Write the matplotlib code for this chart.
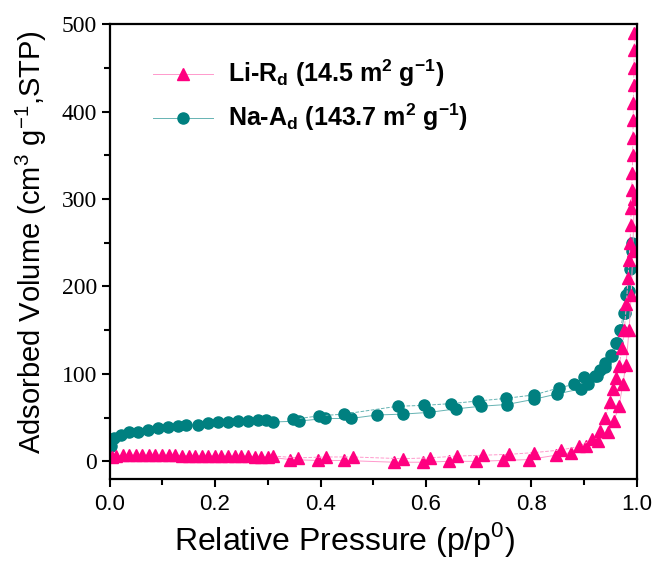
import numpy as np
import matplotlib.pyplot as plt
from matplotlib.ticker import MultipleLocator

plt.rcParams['font.family'] = 'Liberation Sans'
plt.rcParams['mathtext.fontset'] = 'custom'
plt.rcParams['mathtext.rm'] = 'Liberation Sans'
plt.rcParams['mathtext.bf'] = 'Liberation Sans:bold'
plt.rcParams['axes.unicode_minus'] = False

# --- data ---
li_ads_p = [0.004, 0.012, 0.025, 0.037, 0.05, 0.062, 0.075, 0.087, 0.10, 0.112, 0.125, 0.137,
            0.15, 0.162, 0.175, 0.187, 0.20, 0.212, 0.225, 0.237, 0.25, 0.262, 0.275, 0.287,
            0.30, 0.343, 0.395, 0.444, 0.539, 0.594, 0.643, 0.695, 0.746, 0.795, 0.846, 0.875,
            0.903, 0.926, 0.945, 0.956, 0.966, 0.973, 0.979, 0.985, 0.989, 0.992, 0.995]
li_ads_v = [5, 6, 7, 7, 7, 7, 7, 7, 7, 7, 7, 6.5, 6.5, 6.5, 6.5, 6.5, 6, 6, 6, 6, 6, 6,
            5.5, 5.5, 5, 2, 1, 1, -1, -1, 0, 0, 1, 2, 7, 10, 17, 23, 33, 46, 63, 88, 110,
            150, 190, 240, 300]
li_des_p = [0.995, 0.995, 0.994, 0.994, 0.993, 0.993, 0.992, 0.992, 0.991, 0.990, 0.989,
            0.988, 0.987, 0.985, 0.983, 0.980, 0.976, 0.972, 0.966, 0.960, 0.954, 0.948,
            0.940, 0.930, 0.915, 0.890, 0.856, 0.805, 0.757, 0.708, 0.658, 0.607, 0.556,
            0.461, 0.410, 0.358, 0.31]
li_des_v = [490, 470, 450, 430, 410, 390, 370, 350, 330, 310, 290, 270, 250, 230, 210, 180,
            150, 130, 109, 95, 83, 68, 50, 35, 25, 17, 13, 10, 8, 7, 6, 4, 3, 5, 5, 4, 6]

na_ads_p = [0.002, 0.008, 0.021, 0.036, 0.053, 0.072, 0.091, 0.11, 0.129, 0.144, 0.167, 0.186,
            0.205, 0.224, 0.243, 0.262, 0.281, 0.296, 0.309, 0.359, 0.408, 0.457, 0.507, 0.556,
            0.606, 0.657, 0.704, 0.753, 0.805, 0.848, 0.894, 0.907, 0.925, 0.94, 0.952, 0.962,
            0.97, 0.978, 0.984, 0.99]
na_ads_v = [18, 27, 30, 33, 34, 36, 38, 39, 40, 41, 42, 44, 45, 45, 46, 46, 47, 47, 45, 46,
            49, 49, 53, 54, 56, 60, 63, 65, 71, 77, 83, 88, 98, 108, 120, 135, 150, 170, 195, 240]
na_des_p = [0.99, 0.986, 0.98, 0.975, 0.968, 0.96, 0.95, 0.94, 0.93, 0.92, 0.90, 0.88, 0.852,
            0.805, 0.751, 0.698, 0.647, 0.596, 0.546, 0.444, 0.397, 0.347]
na_des_v = [250, 220, 190, 170, 150, 135, 122, 112, 104, 98, 96, 88, 84, 76, 72, 69, 66, 64,
            63, 54, 52, 48]

PINK = '#ff0080'
TEAL = '#008080'

fig = plt.figure(figsize=(6.56, 5.62), dpi=100)
ax = fig.add_axes([0.167, 0.148, 0.804, 0.809])

# Na first, Li drawn on top
ax.plot(na_ads_p, na_ads_v, '-', color='#66b3b3', lw=0.7, marker='o', ms=8,
        mfc=TEAL, mec=TEAL,
        label=r'Na-A$_\mathbf{d}$ (143.7 m$^\mathbf{2}$ g$^\mathbf{-1}$)')
ax.plot(na_des_p, na_des_v, '--', color='#66b3b3', lw=0.7, marker='o', ms=8,
        mfc=TEAL, mec=TEAL)
ax.plot(li_ads_p, li_ads_v, '-', color='#ff99cc', lw=0.7, marker='^', ms=9,
        mfc=PINK, mec=PINK,
        label=r'Li-R$_\mathbf{d}$ (14.5 m$^\mathbf{2}$ g$^\mathbf{-1}$)')
ax.plot(li_des_p, li_des_v, '--', color='#ff99cc', lw=0.7, marker='^', ms=9,
        mfc=PINK, mec=PINK)

ax.set_xlim(0, 1.0)
ax.set_ylim(-20, 500)
ax.xaxis.set_major_locator(MultipleLocator(0.2))
ax.xaxis.set_minor_locator(MultipleLocator(0.1))
ax.yaxis.set_major_locator(MultipleLocator(100))
ax.yaxis.set_minor_locator(MultipleLocator(50))
ax.xaxis.set_major_formatter(plt.FormatStrFormatter('%.1f'))

for s in ax.spines.values():
    s.set_linewidth(1.6)
ax.tick_params(which='major', direction='out', length=6, width=1.5)
ax.tick_params(which='minor', direction='out', length=4, width=1.5)
ax.tick_params(axis='x', labelsize=16, pad=5)
ax.tick_params(axis='y', labelsize=17, pad=3)
for lab in ax.get_yticklabels():
    lab.set_fontfamily('Liberation Serif')

ax.set_xlabel(r'Relative Pressure (p/p$^\mathrm{0}$)', fontsize=23)
ax.xaxis.set_label_coords(0.445, -0.09)
ax.set_ylabel(r'Adsorbed Volume (cm$^\mathrm{3}$ g$^\mathrm{-1}$,STP)', fontsize=21)
ax.yaxis.set_label_coords(-0.115, 0.52)

h, l = ax.get_legend_handles_labels()
ax.legend(h[::-1], l[::-1], loc='upper left', bbox_to_anchor=(0.04, 0.975), frameon=False,
          prop={'weight': 'bold', 'size': 18}, handlelength=2.4, handletextpad=0.6,
          labelspacing=0.5)

fig.savefig('out.png', dpi=100)
